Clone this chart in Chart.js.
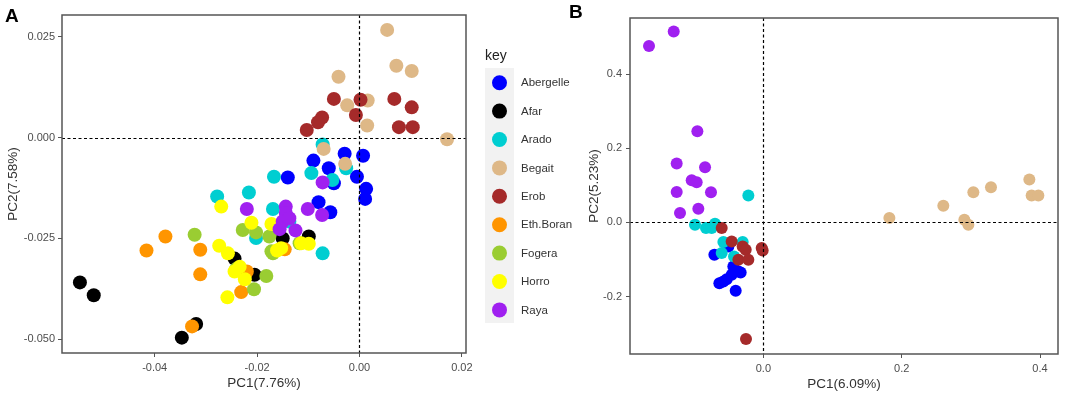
<!DOCTYPE html>
<html>
<head>
<meta charset="utf-8">
<script src="https://cdn.jsdelivr.net/npm/chart.js@4.4.0/dist/chart.umd.min.js"></script>
<style>
  html, body { margin: 0; padding: 0; background: #fff; }
  #wrap { position: relative; width: 1065px; height: 396px; overflow: hidden; }
  #chartA { position: absolute; left: 0; top: 0; }
  #chartB { position: absolute; left: 560px; top: 0; }
</style>
</head>
<body>
<div id="wrap">
  <canvas id="chartA" width="580" height="396"></canvas>
  <canvas id="chartB" width="505" height="396"></canvas>
</div>
<script>
// breeds, in legend order
const breeds = ['Abergelle', 'Afar', 'Arado', 'Begait', 'Erob', 'Eth.Boran', 'Fogera', 'Horro', 'Raya'];
const breedColors = ['#0000FF', '#000000', '#00CED1', '#DEB887', '#A52A2A', '#FF9500', '#9ACD32', '#FFFF00', '#A020F0'];

// panel A: [PC1, PC2]
const aAbergelle = [[-0.0029,-0.0040],[0.0007,-0.0045],[-0.0090,-0.0057],[-0.0060,-0.0076],[-0.0005,-0.0097],[-0.0140,-0.0099],[-0.0050,-0.0113],[0.0013,-0.0127],[0.0011,-0.0152],[-0.0080,-0.0160],[-0.0057,-0.0185]];
const aAfar = [[-0.0546,-0.0359],[-0.0519,-0.0391],[-0.0347,-0.0496],[-0.0319,-0.0462],[-0.0244,-0.0300],[-0.0205,-0.0340],[-0.0099,-0.0245],[-0.0150,-0.0250]];
const aArado = [[-0.0072,-0.0017],[-0.0094,-0.0088],[-0.0026,-0.0076],[-0.0167,-0.0097],[-0.0053,-0.0105],[-0.0216,-0.0136],[-0.0278,-0.0146],[-0.0169,-0.0177],[-0.0202,-0.0249],[-0.0072,-0.0287],[-0.0137,-0.0208]];
const aBegait = [[0.0054,0.0267],[0.0072,0.0178],[0.0102,0.0165],[-0.0041,0.0151],[-0.0024,0.0080],[0.0016,0.0092],[0.0015,0.0030],[0.0171,-0.0004],[-0.0070,-0.0028],[-0.0028,-0.0065]];
const aErob = [[-0.0050,0.0096],[0.0002,0.0094],[-0.0007,0.0056],[-0.0073,0.0050],[-0.0081,0.0038],[-0.0103,0.0019],[0.0068,0.0096],[0.0102,0.0075],[0.0077,0.0026],[0.0104,0.0026]];
const aEthBoran = [[-0.0379,-0.0245],[-0.0416,-0.0280],[-0.0311,-0.0278],[-0.0311,-0.0339],[-0.0231,-0.0383],[-0.0220,-0.0332],[-0.0327,-0.0468],[-0.0146,-0.0277]];
const aFogera = [[-0.0322,-0.0241],[-0.0228,-0.0229],[-0.0202,-0.0235],[-0.0176,-0.0245],[-0.0169,-0.0287],[-0.0182,-0.0343],[-0.0206,-0.0376],[-0.0241,-0.0326],[-0.0117,-0.0262],[-0.0172,-0.0282]];
const aHorro = [[-0.0270,-0.0171],[-0.0211,-0.0211],[-0.0172,-0.0214],[-0.0274,-0.0268],[-0.0257,-0.0287],[-0.0114,-0.0262],[-0.0099,-0.0263],[-0.0161,-0.0280],[-0.0244,-0.0332],[-0.0224,-0.0351],[-0.0258,-0.0396],[-0.0234,-0.0320],[-0.0153,-0.0274]];
const aRaya = [[-0.0072,-0.0111],[-0.0220,-0.0177],[-0.0144,-0.0171],[-0.0144,-0.0187],[-0.0101,-0.0177],[-0.0073,-0.0192],[-0.0150,-0.0208],[-0.0156,-0.0227],[-0.0125,-0.0230],[-0.0137,-0.0200]];

// panel B: [PC1, PC2]
const bAbergelle = [[-0.0708,-0.0874],[-0.0506,-0.0649],[-0.0434,-0.1189],[-0.0361,-0.1324],[-0.0458,-0.1414],[-0.0530,-0.1532],[-0.0636,-0.1640],[-0.0578,-0.1595],[-0.0400,-0.1847],[-0.0328,-0.1351]];
const bArado = [[-0.0217,0.0721],[-0.0988,-0.0063],[-0.0829,-0.0153],[-0.0699,-0.0036],[-0.0747,-0.0153],[-0.0578,-0.0532],[-0.0602,-0.0829],[-0.0299,-0.0532],[-0.0424,-0.0919]];
const bBegait = [[0.1822,0.0117],[0.2602,0.0450],[0.2906,0.0072],[0.2964,-0.0063],[0.3036,0.0811],[0.3291,0.0946],[0.3846,0.1153],[0.3879,0.0721],[0.3976,0.0721]];
const bErob = [[-0.0602,-0.0153],[-0.0458,-0.0514],[-0.0299,-0.0649],[-0.0255,-0.0739],[-0.0024,-0.0694],[-0.0010,-0.0757],[-0.0361,-0.1009],[-0.0217,-0.1009],[-0.0251,-0.3144]];
const bRaya = [[-0.1653,0.4757],[-0.1296,0.5144],[-0.0954,0.2459],[-0.1253,0.1586],[-0.0843,0.1486],[-0.1036,0.1135],[-0.0964,0.1081],[-0.1253,0.0820],[-0.0757,0.0811],[-0.0940,0.0369],[-0.1205,0.0252]];

// tick values and labels
const ticksAX = [-0.04, -0.02, 0, 0.02];
const labelsAX = ['-0.04', '-0.02', '0.00', '0.02'];
const ticksAY = [-0.05, -0.025, 0, 0.025];
const labelsAY = ['-0.050', '-0.025', '0.000', '0.025'];
const ticksBX = [0, 0.2, 0.4];
const labelsBX = ['0.0', '0.2', '0.4'];
const ticksBY = [-0.2, 0, 0.2, 0.4];
const labelsBY = ['-0.2', '0.0', '0.2', '0.4'];

const FONT = "'Liberation Sans', Arial, sans-serif";
Chart.defaults.font.family = FONT;

function toPoints(arr) {
    return arr.map(p => ({ x: p[0], y: p[1] }));
}

function makeSet(name, arr, order, radius) {
    const c = breedColors[breeds.indexOf(name)];
    return {
        label: name,
        data: toPoints(arr),
        backgroundColor: c,
        borderWidth: 0,
        pointRadius: radius,
        pointHoverRadius: radius,
        order: order
    };
}

// border, dashed zero lines and panel letter
const framePlugin = {
    id: 'frame',
    afterDatasetsDraw(chart, args, o) {
        const { ctx, chartArea: a, scales: { x, y } } = chart;
        ctx.save();
        const x0 = Math.round(x.getPixelForValue(0)) + 0.5;
        const y0 = Math.round(y.getPixelForValue(0)) + 0.5;
        ctx.strokeStyle = '#000';
        ctx.lineWidth = 1.2;
        ctx.setLineDash([3, 2.5]);
        ctx.beginPath();
        ctx.moveTo(x0, a.top); ctx.lineTo(x0, a.bottom);
        ctx.moveTo(a.left, y0); ctx.lineTo(a.right, y0);
        ctx.stroke();
        ctx.setLineDash([]);
        ctx.strokeStyle = '#555';
        ctx.lineWidth = 1.5;
        ctx.strokeRect(a.left, a.top, a.width, a.height);
        ctx.fillStyle = '#000';
        ctx.font = 'bold 19px ' + FONT;
        ctx.textBaseline = 'alphabetic';
        ctx.fillText(o.letter, o.lx, o.ly);
        ctx.restore();
    }
};

// "key" legend of panel A
const keyPlugin = {
    id: 'keyBox',
    afterDraw(chart, args, o) {
        if (!o.show) return;
        const ctx = chart.ctx;
        ctx.save();
        ctx.fillStyle = '#F2F2F2';
        ctx.fillRect(485, 68, 29, 255);
        ctx.fillStyle = '#222';
        ctx.font = '14px ' + FONT;
        ctx.textBaseline = 'middle';
        ctx.fillText('key', 485, 56);
        ctx.font = '11.5px ' + FONT;
        breeds.forEach((b, i) => {
            const cy = 82.7 + i * 28.4;
            ctx.fillStyle = breedColors[i];
            ctx.beginPath();
            ctx.arc(499.5, cy, 7.5, 0, Math.PI * 2);
            ctx.fill();
            ctx.fillStyle = '#333';
            ctx.fillText(b, 521, cy + 0.5);
        });
        ctx.restore();
    }
};

function axis(cfg) {
    return {
        type: 'linear',
        min: cfg.min,
        max: cfg.max,
        afterBuildTicks: s => { s.ticks = cfg.ticks.map(v => ({ value: v })); },
        afterFit: s => { if (cfg.width) s.width = cfg.width; if (cfg.height) s.height = cfg.height; },
        grid: { display: true, drawOnChartArea: false, drawTicks: true, tickLength: 4, color: '#555', lineWidth: 1 },
        border: { display: false },
        ticks: {
            padding: cfg.pad,
            color: '#4D4D4D',
            font: { size: 11 },
            maxRotation: 0,
            autoSkip: false,
            callback: v => cfg.labels[cfg.ticks.indexOf(v)]
        },
        title: {
            display: true,
            text: cfg.title,
            color: '#333',
            font: { size: 13.5 },
            padding: cfg.titlePad
        }
    };
}

function scatter(id, datasets, o) {
    return new Chart(document.getElementById(id), {
        type: 'scatter',
        data: { datasets: datasets },
        plugins: [framePlugin, keyPlugin],
        options: {
            responsive: false,
            animation: false,
            events: [],
            layout: { padding: o.padding },
            scales: { x: o.x, y: o.y },
            plugins: {
                legend: { display: false },
                tooltip: { enabled: false },
                frame: o.frame,
                keyBox: { show: o.key }
            }
        }
    });
}

scatter('chartA', [
    makeSet('Abergelle', aAbergelle, 8, 7),
    makeSet('Afar', aAfar, 9, 7),
    makeSet('Arado', aArado, 7, 7),
    makeSet('Begait', aBegait, 6, 7),
    makeSet('Erob', aErob, 5, 7),
    makeSet('Eth.Boran', aEthBoran, 4, 7),
    makeSet('Fogera', aFogera, 3, 7),
    makeSet('Horro', aHorro, 2, 7),
    makeSet('Raya', aRaya, 1, 7)
], {
    padding: { left: 0, top: 15, right: 114, bottom: 0 },
    x: axis({ min: -0.0581, max: 0.0208, ticks: ticksAX, labels: labelsAX, height: 43, pad: 4,
              title: 'PC1(7.76%)', titlePad: { top: 0, bottom: 5 } }),
    y: axis({ min: -0.0534, max: 0.0304, ticks: ticksAY, labels: labelsAY, width: 62, pad: 3,
              title: 'PC2(7.58%)', titlePad: { top: 5, bottom: 0 } }),
    frame: { letter: 'A', lx: 5, ly: 22 },
    key: true
});

scatter('chartB', [
    makeSet('Abergelle', bAbergelle, 4, 6),
    makeSet('Arado', bArado, 3, 6),
    makeSet('Begait', bBegait, 5, 6),
    makeSet('Erob', bErob, 2, 6),
    makeSet('Raya', bRaya, 1, 6)
], {
    padding: { left: 0, top: 18, right: 7, bottom: 0 },
    x: axis({ min: -0.1928, max: 0.426, ticks: ticksBX, labels: labelsBX, height: 42, pad: 4,
              title: 'PC1(6.09%)', titlePad: { top: 0, bottom: 4 } }),
    y: axis({ min: -0.355, max: 0.551, ticks: ticksBY, labels: labelsBY, width: 70, pad: 4,
              title: 'PC2(5.23%)', titlePad: { top: 26, bottom: 0 } }),
    frame: { letter: 'B', lx: 9, ly: 18 },
    key: false
});
</script>
</body>
</html>
